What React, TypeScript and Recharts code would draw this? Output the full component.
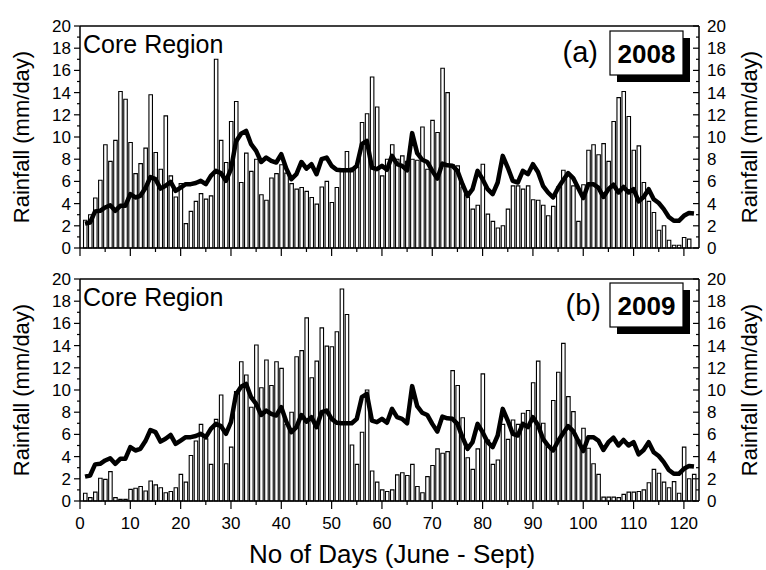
import React from 'react'
import { ComposedChart, Bar, Line, XAxis, YAxis, ReferenceLine } from 'recharts'

// day index of the monsoon season, 1 June = day 1
const days = Array.from({ length: 122 }, (_, i) => i + 1)

// daily rainfall (mm/day), core region, 2008
const rain2008 = [
  2.5, 3.0, 4.5, 6.1, 9.3, 7.8, 9.7, 14.1, 13.4, 9.5,
  6.7, 7.6, 9.0, 13.8, 8.6, 7.1, 11.9, 6.5, 4.6, 5.8,
  2.2, 3.3, 4.2, 4.9, 4.4, 4.7, 17.0, 9.7, 7.7, 11.4,
  13.2, 5.9, 8.55, 6.9, 8.0, 4.8, 4.3, 6.3, 6.7, 7.5,
  6.75, 5.8, 5.3, 5.45, 5.1, 4.55, 3.95, 5.5, 6.0, 4.1,
  5.45, 7.0, 8.7, 7.2, 7.3, 11.3, 12.1, 15.4, 12.7, 6.5,
  8.0, 9.3, 8.0, 8.3, 7.8, 8.0, 7.9, 10.9, 7.1, 11.5,
  10.4, 16.2, 14.0, 7.5, 7.4, 5.5, 4.6, 3.5, 3.85, 7.55,
  3.05, 2.4, 1.8, 2.0, 3.5, 5.6, 5.6, 5.3, 5.6, 4.35,
  4.3, 3.85, 2.9, 3.75, 5.5, 7.0, 6.7, 5.6, 2.4, 5.7,
  8.8, 9.3, 8.4, 9.4, 7.8, 11.4, 13.55, 14.1, 11.85, 8.8,
  9.2, 5.9, 4.2, 3.2, 1.6, 2.0, 0.7, 0.25, 0.25, 0.95,
  0.8, 0,
]

// daily rainfall (mm/day), core region, 2009
const rain2009 = [
  0.7, 0.3, 0.8, 2.05, 1.95, 2.65, 0.3, 0.15, 0.15, 1.05,
  1.15, 1.3, 0.9, 1.8, 1.45, 1.2, 0.75, 0.85, 1.2, 2.4,
  1.7, 4.1, 5.4, 6.9, 5.6, 3.3, 7.35, 9.55, 3.35, 4.85,
  9.85, 12.55, 11.35, 8.45, 14.05, 10.2, 12.7, 10.4, 12.55, 11.95,
  6.9, 8.0, 13.0, 13.55, 16.5, 11.1, 12.6, 15.6, 13.95, 13.9,
  15.25, 19.1, 16.8, 5.05, 3.3, 6.2, 10.0, 2.7, 1.7, 1.0,
  0.85, 1.0, 2.35, 2.55, 2.3, 3.3, 1.3, 0.75, 2.2, 3.2,
  4.7, 4.3, 4.45, 11.75, 10.4, 7.5, 3.9, 2.85, 4.7, 11.45,
  5.5, 3.3, 3.7, 6.9, 5.55, 7.3, 6.9, 7.9, 8.15, 10.65,
  12.6, 7.0, 4.85, 9.05, 11.6, 14.2, 9.4, 8.05, 5.5, 6.55,
  4.75, 3.35, 2.4, 0.35, 0.35, 0.35, 0.3, 0.6, 0.8, 0.8,
  0.85, 1.0, 1.65, 2.85, 2.5, 1.7, 1.2, 1.75, 0.7, 4.85,
  2.0, 2.4,
]

// climatological daily mean (thick line), same in both panels
const climatology = [
  2.2, 2.3, 3.3, 3.35, 3.65, 3.85, 3.35, 3.8, 3.8, 4.85,
  4.55, 4.7, 5.4, 6.4, 6.2, 5.35, 5.6, 5.95, 5.15, 5.45,
  5.75, 5.75, 5.85, 6.05, 5.75, 6.5, 6.95, 6.75, 6.05, 7.1,
  9.6, 10.3, 10.55, 9.35, 8.75, 7.75, 8.15, 7.85, 7.7, 8.45,
  7.15, 6.2, 6.65, 7.75, 7.15, 7.55, 6.65, 8.0, 8.15, 7.4,
  7.05, 7.0, 7.0, 7.0, 7.4, 9.35, 9.65, 7.25, 7.1, 7.4,
  7.05, 8.3, 7.55, 7.4, 7.0, 10.35, 8.55, 7.95, 7.75, 6.95,
  6.25, 7.6, 7.45, 7.4, 6.95, 5.75, 4.7, 5.3, 6.95, 6.2,
  5.3, 4.85, 5.9, 8.3, 7.25, 6.05, 5.9, 6.95, 6.65, 7.55,
  6.85, 5.6, 5.0, 4.55, 5.4, 6.1, 6.75, 6.3, 5.4, 4.5,
  5.75, 5.75, 5.45, 4.6, 5.3, 5.7, 5.0, 5.5, 5.0, 5.3,
  4.2, 4.6, 5.3, 4.4, 4.05, 3.5, 2.8, 2.45, 2.45, 2.9,
  3.15, 3.1,
]

const xTicks = [0, 5, 10, 15, 20, 25, 30, 35, 40, 45, 50, 55, 60, 65, 70, 75, 80, 85, 90, 95, 100, 105, 110, 115, 120]
const yTicks = [0, 1, 2, 3, 4, 5, 6, 7, 8, 9, 10, 11, 12, 13, 14, 15, 16, 17, 18, 19, 20]

const FONT = '"Liberation Sans", Arial, sans-serif'
const TICK_FS = 17

const LeftTick = (props: any) => {
  const { x, y, payload } = props
  const major = payload.value % 2 === 0
  return (
    <g>
      <line x1={x} x2={x - (major ? 6 : 3)} y1={y} y2={y} stroke="#000" strokeWidth={1.2} />
      {major && (
        <text x={x - 9} y={y + 6} textAnchor="end" fontSize={TICK_FS} fontFamily={FONT} fill="#000">
          {payload.value}
        </text>
      )}
    </g>
  )
}

const RightTick = (props: any) => {
  const { x, y, payload } = props
  const major = payload.value % 2 === 0
  return (
    <g>
      <line x1={x} x2={x - (major ? 6 : 3)} y1={y} y2={y} stroke="#000" strokeWidth={1.2} />
      {major && (
        <text x={x + 8} y={y + 6} textAnchor="start" fontSize={TICK_FS} fontFamily={FONT} fill="#000">
          {payload.value}
        </text>
      )}
    </g>
  )
}

const makeBottomTick = (showLabels: boolean) => (props: any) => {
  const { x, y, payload } = props
  const major = payload.value % 10 === 0
  return (
    <g>
      <line x1={x} x2={x} y1={y} y2={y + (major ? 8 : 4)} stroke="#000" strokeWidth={1.2} />
      {showLabels && major && (
        <text x={x} y={y + 28} textAnchor="middle" fontSize={TICK_FS} fontFamily={FONT} fill="#000">
          {payload.value}
        </text>
      )}
    </g>
  )
}

const axisLine = { stroke: '#000', strokeWidth: 1.5 }

const Panel = ({ rain, height, xAxisHeight, showLabels }: { rain: number[]; height: number; xAxisHeight: number; showLabels: boolean }) => {
  const data = days.map((d, i) => ({ day: d, rain: rain[i], clim: climatology[i] }))
  return (
    <ComposedChart width={766} height={height} data={data} margin={{ top: 26, right: 37, bottom: 0, left: 50 }}>
      <XAxis
        dataKey="day"
        type="number"
        domain={[0, 123]}
        ticks={xTicks}
        interval={0}
        height={xAxisHeight}
        tickSize={0}
        tickMargin={0}
        tickLine={false}
        axisLine={axisLine}
        tick={makeBottomTick(showLabels)}
      />
      <YAxis
        yAxisId="left"
        domain={[0, 20]}
        ticks={yTicks}
        interval={0}
        width={30}
        tickSize={0}
        tickMargin={0}
        tickLine={false}
        axisLine={axisLine}
        tick={LeftTick}
      />
      <YAxis
        yAxisId="right"
        orientation="right"
        domain={[0, 20]}
        ticks={yTicks}
        interval={0}
        width={30}
        tickSize={0}
        tickMargin={0}
        tickLine={false}
        axisLine={axisLine}
        tick={RightTick}
      />
      <ReferenceLine yAxisId="left" y={20} stroke="#000" strokeWidth={1.5} />
      <Bar yAxisId="left" dataKey="rain" barSize={3.5} fill="#fff" stroke="#000" strokeWidth={1.1} isAnimationActive={false} />
      <Line
        yAxisId="right"
        type="linear"
        dataKey="clim"
        stroke="#000"
        strokeWidth={4.5}
        dot={false}
        strokeLinejoin="round"
        isAnimationActive={false}
      />
    </ComposedChart>
  )
}

const YearBox = ({ x, y, label }: { x: number; y: number; label: string }) => (
  <g>
    <rect x={x + 7} y={y + 7} width={73} height={44} fill="#000" />
    <rect x={x} y={y} width={73} height={44} fill="#fff" stroke="#000" strokeWidth={1.2} />
    <text x={x + 36.5} y={y + 32} textAnchor="middle" fontSize={26} fontWeight="bold" fontFamily={FONT} fill="#000">
      {label}
    </text>
  </g>
)

const Annotations = () => (
  <svg width={766} height={570} style={{ position: 'absolute', left: 0, top: 0, pointerEvents: 'none' }}>
    <g fontFamily={FONT} fill="#000">
      <text x={83} y={53} fontSize={25}>Core Region</text>
      <text x={83} y={306} fontSize={25}>Core Region</text>
      <text x={598} y={62} fontSize={29} textAnchor="end">(a)</text>
      <text x={601} y={315} fontSize={29} textAnchor="end">(b)</text>
      <text transform="translate(29,137) rotate(-90)" fontSize={22} textAnchor="middle">Rainfall (mm/day)</text>
      <text transform="translate(29,390) rotate(-90)" fontSize={22} textAnchor="middle">Rainfall (mm/day)</text>
      <text transform="translate(757,137) rotate(-90)" fontSize={22} textAnchor="middle">Rainfall (mm/day)</text>
      <text transform="translate(757,390) rotate(-90)" fontSize={22} textAnchor="middle">Rainfall (mm/day)</text>
      <text x={392} y={563} fontSize={26} textAnchor="middle">No of Days (June - Sept)</text>
    </g>
    <YearBox x={610} y={31} label="2008" />
    <YearBox x={610} y={283} label="2009" />
  </svg>
)

export default function App() {
  return (
    <div style={{ position: 'absolute', left: 0, top: 0, width: 766, height: 570, background: '#fff', fontFamily: FONT }}>
      <div style={{ position: 'absolute', left: 0, top: 0 }}>
        <Panel rain={rain2008} height={265} xAxisHeight={17} showLabels={false} />
      </div>
      <div style={{ position: 'absolute', left: 0, top: 253 }}>
        <Panel rain={rain2009} height={317} xAxisHeight={69} showLabels={true} />
      </div>
      <Annotations />
    </div>
  )
}
